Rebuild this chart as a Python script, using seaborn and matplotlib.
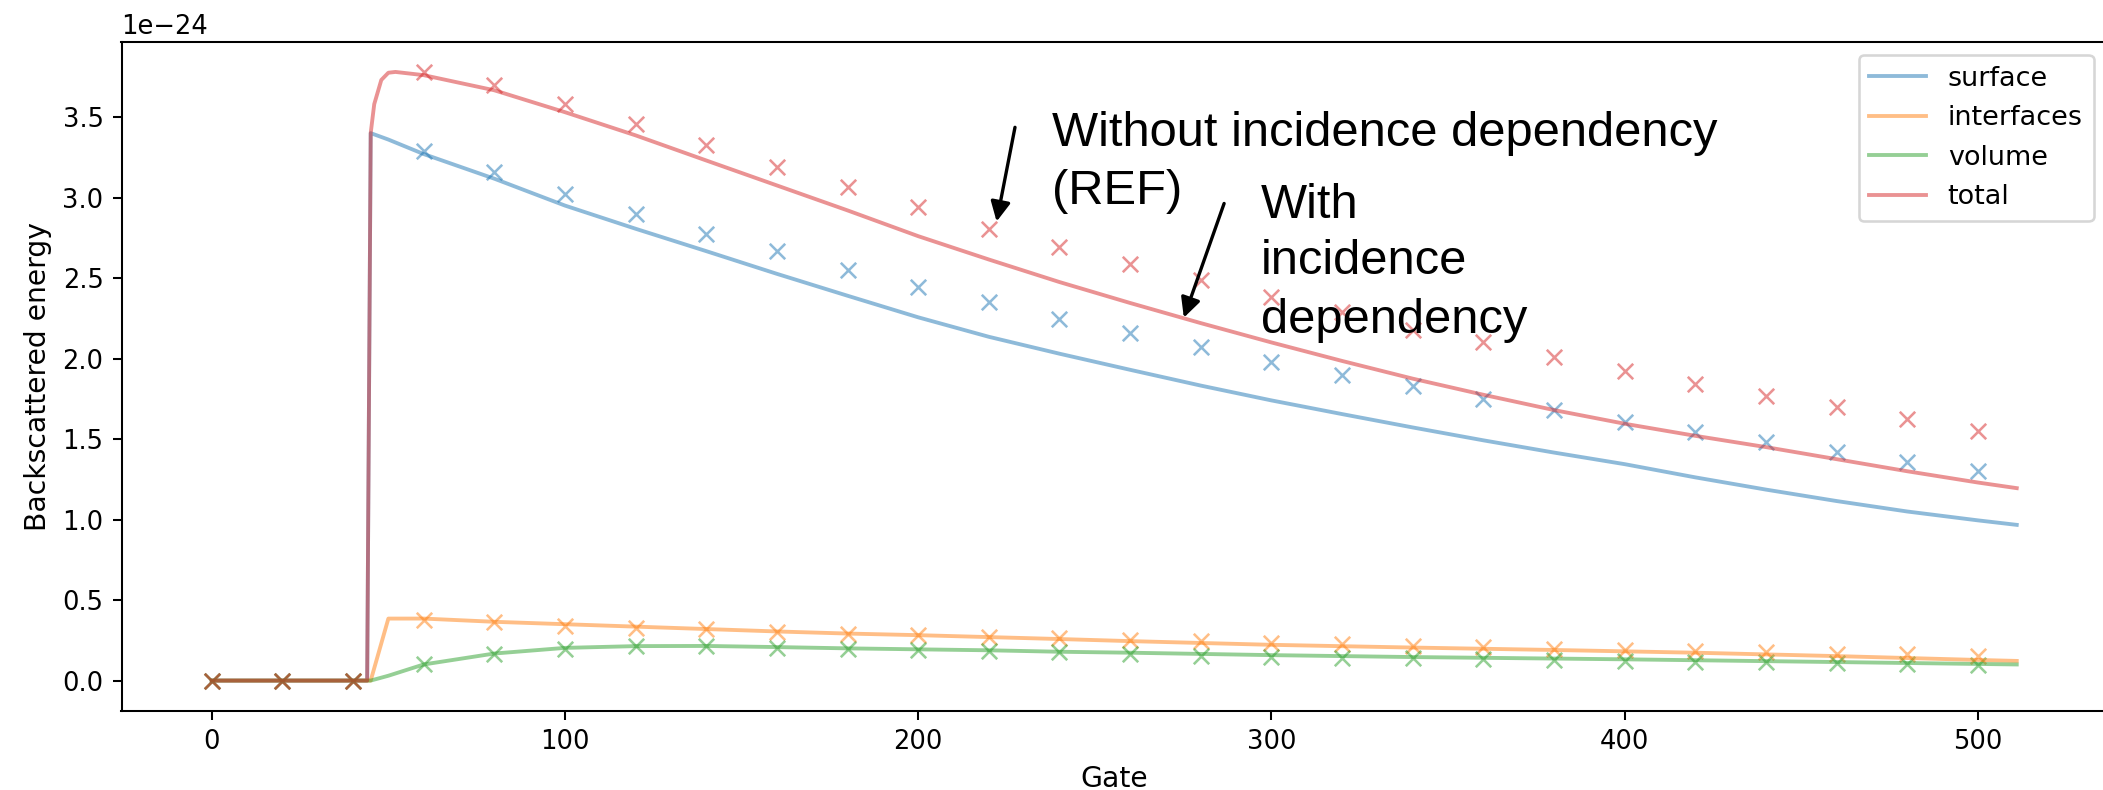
import numpy as np
import pandas as pd
import matplotlib
matplotlib.use('Agg')
import matplotlib.pyplot as plt
from matplotlib.patches import FancyArrowPatch
import seaborn as sns

# ------------------------------------------------------------------
# 데이터 (단위: 1e-24)
# ------------------------------------------------------------------
SCALE = 1e-24

# 곡선 (incidence dependency 포함) — 읽은 값
surface_gate = [0, 44, 45, 50, 60, 80, 100, 120, 140, 160, 180, 200, 220, 240, 260,
                280, 300, 320, 340, 360, 380, 400, 420, 440, 460, 480, 500, 511]
surface_line = [0, 0, 3.40, 3.36, 3.27, 3.117, 2.95, 2.806, 2.667, 2.526, 2.39, 2.256,
                2.135, 2.03, 1.93, 1.832, 1.74, 1.655, 1.572, 1.492, 1.416, 1.344, 1.262,
                1.186, 1.115, 1.05, 0.995, 0.967]

interf_gate = [0, 44, 45, 50, 60, 80, 100, 120, 140, 160, 180, 200, 220, 240, 260,
               300, 340, 380, 420, 460, 500, 511]
interf_line = [0, 0, 0.0, 0.385, 0.385, 0.365, 0.35, 0.335, 0.32, 0.305, 0.292, 0.282,
               0.27, 0.258, 0.245, 0.222, 0.205, 0.19, 0.173, 0.152, 0.128, 0.122]

volume_gate = [0, 44, 45, 50, 60, 80, 100, 120, 140, 160, 180, 200, 220, 240, 260,
               300, 340, 400, 460, 511]
volume_line = [0, 0, 0.0, 0.03, 0.10, 0.168, 0.203, 0.214, 0.215, 0.208, 0.20, 0.194,
               0.188, 0.179, 0.173, 0.158, 0.146, 0.132, 0.115, 0.10]

total_gate = [0, 44, 45, 46, 48, 50, 52, 60, 80, 100, 120, 140, 160, 180, 200, 220,
              240, 260, 280, 300, 320, 340, 360, 380, 400, 420, 440, 460, 480, 500, 511]
total_line = [0, 0, 3.40, 3.58, 3.73, 3.775, 3.78, 3.76, 3.666, 3.53, 3.386, 3.23, 3.075,
              2.92, 2.76, 2.615, 2.475, 2.345, 2.22, 2.10, 1.985, 1.875, 1.775, 1.68,
              1.595, 1.52, 1.45, 1.375, 1.30, 1.23, 1.195]

# 마커 (REF, incidence dependency 없음) — gate 0..500, 20 간격
marker_gate = list(range(0, 501, 20))
surface_ref = [0, 0, 0, 3.29, 3.158, 3.02, 2.90, 2.775, 2.667, 2.547, 2.443, 2.35, 2.246,
               2.157, 2.07, 1.976, 1.90, 1.832, 1.749, 1.68, 1.603, 1.541, 1.479, 1.417,
               1.359, 1.299]
interf_ref = [0, 0, 0, 0.374, 0.364, 0.339, 0.328, 0.318, 0.304, 0.291, 0.283, 0.27,
              0.262, 0.253, 0.243, 0.231, 0.225, 0.215, 0.208, 0.198, 0.19, 0.183, 0.177,
              0.167, 0.163, 0.152]
volume_ref = [0, 0, 0, 0.105, 0.168, 0.198, 0.212, 0.212, 0.205, 0.198, 0.19, 0.183,
              0.176, 0.168, 0.155, 0.148, 0.143, 0.14, 0.133, 0.128, 0.122, 0.118, 0.113,
              0.108, 0.103, 0.095]
total_ref = [0, 0, 0, 3.78, 3.697, 3.583, 3.455, 3.324, 3.19, 3.065, 2.94, 2.806, 2.69,
             2.588, 2.485, 2.38, 2.29, 2.18, 2.10, 2.007, 1.92, 1.842, 1.769, 1.697,
             1.626, 1.552]

series_names = ['surface', 'interfaces', 'volume', 'total']
colors = ['#1f77b4', '#ff7f0e', '#2ca02c', '#d62728']

lines = {
    'surface': (surface_gate, surface_line),
    'interfaces': (interf_gate, interf_line),
    'volume': (volume_gate, volume_line),
    'total': (total_gate, total_line),
}
refs = {
    'surface': surface_ref,
    'interfaces': interf_ref,
    'volume': volume_ref,
    'total': total_ref,
}

# 주석 문구 (각 줄, gate / 기준선 값)
ref_note = ['Without incidence dependency', '(REF)']
ref_note_y = [3.32, 2.96]
inc_note = ['With', 'incidence', 'dependency']
inc_note_y = [2.873, 2.525, 2.158]

# ------------------------------------------------------------------
# 그림
# ------------------------------------------------------------------
DPI = 185
fig = plt.figure(figsize=(2103 / DPI, 790 / DPI), dpi=DPI)
ax = fig.add_axes([121.5 / 2103, 79 / 790, (2107 - 121.5) / 2103, (711 - 41.5) / 790])

for name, c in zip(series_names, colors):
    g, v = lines[name]
    df = pd.DataFrame({'gate': g, 'energy': np.array(v) * SCALE})
    sns.lineplot(data=df, x='gate', y='energy', color=c, alpha=0.5, label=name,
                 sort=False, estimator=None, ax=ax)

for name, c in zip(series_names, colors):
    df = pd.DataFrame({'gate': marker_gate, 'energy': np.array(refs[name]) * SCALE})
    sns.scatterplot(data=df, x='gate', y='energy', marker='x', color=c, alpha=0.5,
                    s=36, linewidth=1.0, legend=False, ax=ax)

ax.set_xlabel('Gate', fontsize=11)
ax.set_ylabel('Backscattered energy', fontsize=11)
ax.legend(loc='upper right', fontsize=10.5, handlelength=2.1)

# 주석 (Arial 계열)
ann_font = dict(family='Liberation Sans', fontsize=19, color='black')
for txt, yv in zip(ref_note, ref_note_y):
    ax.text(238, yv * SCALE, txt, ha='left', va='baseline', **ann_font)
for txt, yv in zip(inc_note, inc_note_y):
    ax.text(297, yv * SCALE, txt, ha='left', va='baseline', **ann_font)

for tail, tip in [((227.4, 3.436), (222.2, 2.851)), ((286.6, 2.963), (275.2, 2.254))]:
    ax.add_patch(FancyArrowPatch((tail[0], tail[1] * SCALE), (tip[0], tip[1] * SCALE),
                                 arrowstyle='-|>', color='black', lw=1.3,
                                 mutation_scale=16, shrinkA=0, shrinkB=0))

plt.savefig('out.png', dpi=DPI)
plt.close()
